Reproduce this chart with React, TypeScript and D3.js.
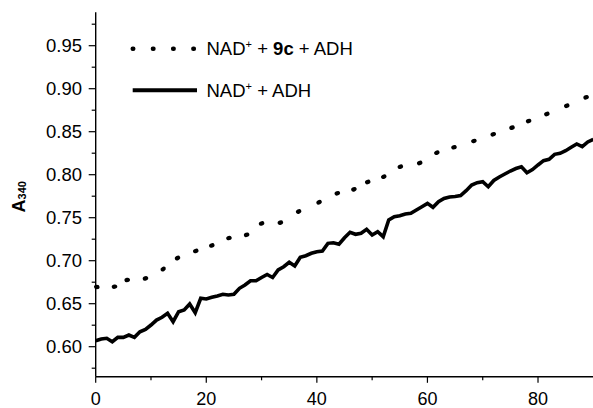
import * as d3 from 'd3';

// A340 readings, one per second (NAD+ + ADH)
const solidA340 = [
  0.6070, 0.6090, 0.6098, 0.6058, 0.6109, 0.6109, 0.6136, 0.6109, 0.6174, 0.6202,
  0.6252, 0.6310, 0.6342, 0.6388, 0.6291, 0.6407, 0.6427, 0.6497, 0.6395, 0.6563,
  0.6555, 0.6574, 0.6590, 0.6609, 0.6601, 0.6609, 0.6679, 0.6717, 0.6767, 0.6767,
  0.6805, 0.6840, 0.6805, 0.6892, 0.6930, 0.6981, 0.6938, 0.7040, 0.7058, 0.7086,
  0.7105, 0.7113, 0.7202, 0.7209, 0.7191, 0.7267, 0.7330, 0.7307, 0.7319, 0.7365,
  0.7299, 0.7337, 0.7279, 0.7473, 0.7512, 0.7523, 0.7543, 0.7551, 0.7590, 0.7628,
  0.7667, 0.7621, 0.7686, 0.7723, 0.7741, 0.7747, 0.7758, 0.7814, 0.7880, 0.7907,
  0.7919, 0.7860, 0.7933, 0.7973, 0.8008, 0.8043, 0.8072, 0.8093, 0.8023, 0.8060,
  0.8113, 0.8163, 0.8179, 0.8237, 0.8249, 0.8279, 0.8319, 0.8357, 0.8326, 0.8381,
  0.8412,
];
const solidTime = solidA340.map((_, i) => i);

// NAD+ + 9c + ADH (dotted trace, sampled where the dots fall)
const dotTime = [
  0.2, 3.4, 5.7, 9.0, 12.2, 14.8, 18.1, 21.0, 24.1, 27.3, 30.0, 33.4, 36.7, 40.4, 43.7,
  46.7, 49.2, 52.1, 55.1, 58.6, 61.7, 64.8, 68.4, 71.9, 75.3, 78.3, 81.6, 85.2, 88.7,
];
const dotA340 = [
  0.6694, 0.6698, 0.6776, 0.6795, 0.6903, 0.7031, 0.7113, 0.7177, 0.7264, 0.7301,
  0.7433, 0.7442, 0.7572, 0.7679, 0.7784, 0.7830, 0.7915, 0.7977, 0.8093, 0.8136,
  0.8256, 0.8319, 0.8392, 0.8470, 0.8547, 0.8624, 0.8706, 0.8802, 0.8900,
];

const xMajor = [0, 20, 40, 60, 80];
const xMinor = [10, 30, 50, 70];
const yMajor = [0.60, 0.65, 0.70, 0.75, 0.80, 0.85, 0.90, 0.95];
const yMinor = [0.575, 0.625, 0.675, 0.725, 0.775, 0.825, 0.875, 0.925, 0.975];

const W = 593, H = 408;
const FONT = 'Liberation Sans, Arial, sans-serif';

export default function App() {
  const x = d3.scaleLinear().domain([0, 90]).range([95.7, 593.3]);
  const y = d3.scaleLinear().domain([0.6, 0.95]).range([346.7, 45.7]);
  const yBottom = y(0.565), yTop = y(0.989);

  const line = d3.line<number>().x((_, i) => x(solidTime[i])).y(d => y(d));

  const dots = dotA340.map((v, i) => {
    const j0 = Math.max(0, i - 1), j1 = Math.min(dotA340.length - 1, i + 1);
    const ang = Math.atan2(y(dotA340[j1]) - y(dotA340[j0]), x(dotTime[j1]) - x(dotTime[j0]));
    return { cx: x(dotTime[i]), cy: y(v), ang: ang * 180 / Math.PI };
  });

  return (
    <svg width={W} height={H} style={{ position: 'absolute', left: 0, top: 0, background: '#fff' }}
      fontFamily={FONT}>
      {/* axes */}
      <line x1={x(0)} x2={x(0)} y1={yTop} y2={yBottom} stroke="#000" strokeWidth={1.4} />
      <line x1={x(0)} x2={W} y1={yBottom} y2={yBottom} stroke="#000" strokeWidth={1.4} />
      {yMajor.map(t => (
        <g key={'ym' + t}>
          <line x1={x(0) - 7} x2={x(0)} y1={y(t)} y2={y(t)} stroke="#000" strokeWidth={1.2} />
          <text x={82} y={y(t)} dy="0.36em" textAnchor="end" fontSize={18.5}>{t.toFixed(2)}</text>
        </g>
      ))}
      {yMinor.map(t => (
        <line key={'yn' + t} x1={x(0) - 4} x2={x(0)} y1={y(t)} y2={y(t)} stroke="#000" strokeWidth={1.2} />
      ))}
      {xMajor.map(t => (
        <g key={'xm' + t}>
          <line x1={x(t)} x2={x(t)} y1={yBottom} y2={yBottom + 6} stroke="#000" strokeWidth={1.2} />
          <text x={x(t)} y={405} textAnchor="middle" fontSize={18}>{t}</text>
        </g>
      ))}
      {xMinor.map(t => (
        <line key={'xn' + t} x1={x(t)} x2={x(t)} y1={yBottom} y2={yBottom + 3.5} stroke="#000" strokeWidth={1.2} />
      ))}

      {/* y title */}
      <text transform={`translate(25,${(yTop + yBottom) / 2 + 18}) rotate(-90)`} fontSize={18} fontWeight="bold">
        A<tspan fontSize={11} dy={1}>340</tspan>
      </text>

      {/* data */}
      <path d={line(solidA340) || ''} fill="none" stroke="#000" strokeWidth={3.6} strokeLinejoin="miter" />
      {dots.map((d, i) => (
        <ellipse key={i} cx={d.cx} cy={d.cy} rx={2.8} ry={2.2} fill="#000"
          transform={`rotate(${d.ang},${d.cx},${d.cy})`} />
      ))}

      {/* legend */}
      <line x1={132.7} x2={194} y1={48.7} y2={48.7} stroke="#000" strokeWidth={4.4}
        strokeLinecap="round" strokeDasharray="0.6 19.6" />
      <text x={206.5} y={55} fontSize={18.5}>
        NAD<tspan fontSize={11} dy={-7}>+</tspan><tspan dy={7}> + </tspan>
        <tspan fontWeight="bold">9c</tspan> + ADH
      </text>
      <line x1={132.7} x2={197} y1={90.3} y2={90.3} stroke="#000" strokeWidth={4} />
      <text x={206.5} y={96.7} fontSize={18.5}>
        NAD<tspan fontSize={11} dy={-7}>+</tspan><tspan dy={7}> + ADH</tspan>
      </text>
    </svg>
  );
}
